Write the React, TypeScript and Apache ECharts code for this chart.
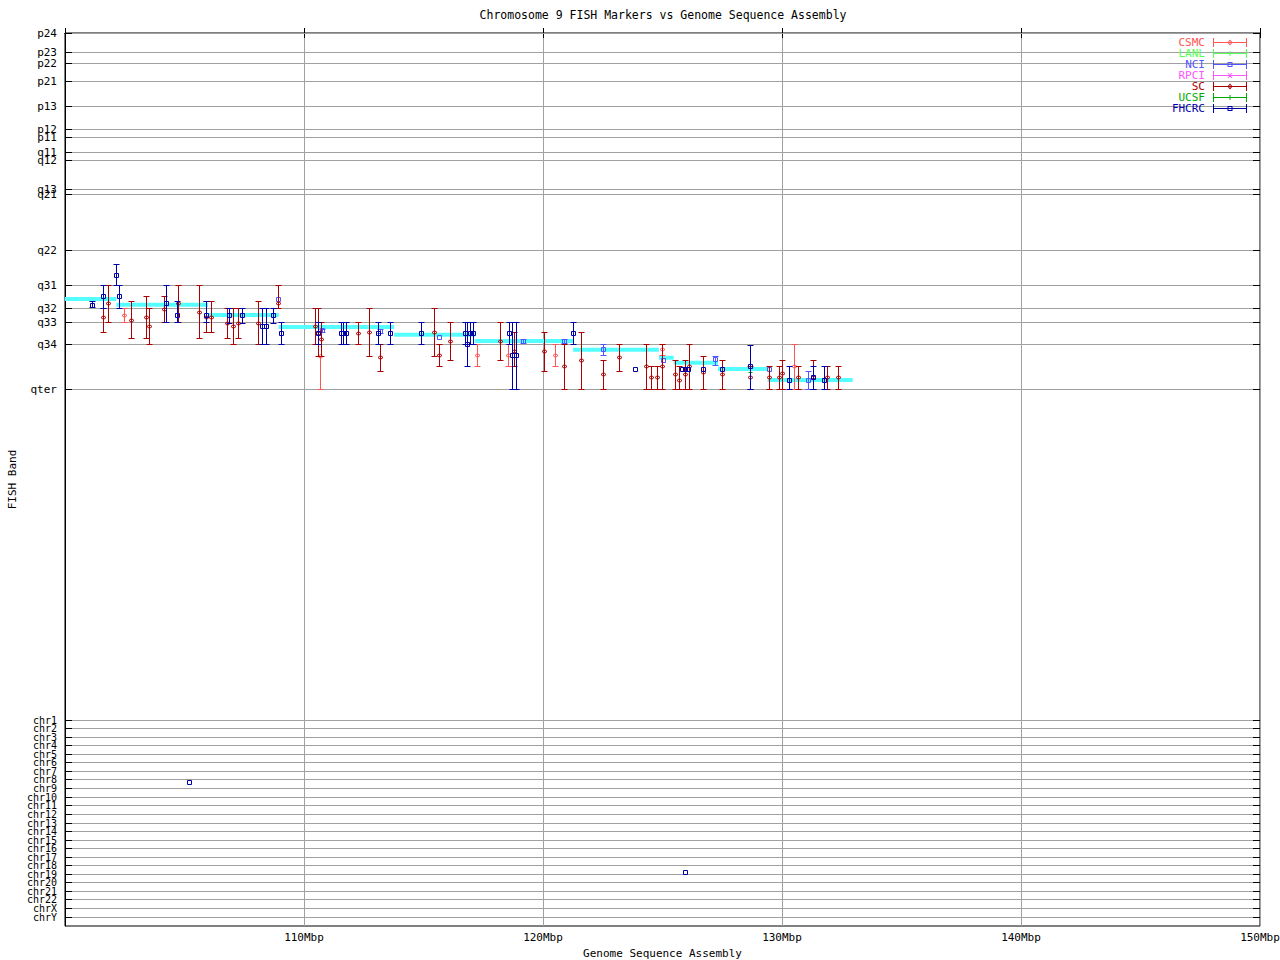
import React, { useEffect, useRef } from 'react';
import * as echarts from 'echarts';

const FONT = '"DejaVu Sans Mono", "Liberation Mono", monospace';

// Axis ranges
const xMin = 100;
const xMax = 150;
const xStep = 10;
const yMax = 250.6; // band-position units (p24 = 0, qter = 100)

// Y tick labels (FISH bands and chromosome rows) and their positions
const bandLabels = [
  'p24', 'p23', 'p22', 'p21', 'p13', 'p12', 'p11', 'q11', 'q12', 'q13', 'q21', 'q22',
  'q31', 'q32', 'q33', 'q34', 'qter',
  'chr1', 'chr2', 'chr3', 'chr4', 'chr5', 'chr6', 'chr7', 'chr8', 'chr9', 'chr10',
  'chr11', 'chr12', 'chr13', 'chr14', 'chr15', 'chr16', 'chr17', 'chr18', 'chr19',
  'chr20', 'chr21', 'chr22', 'chrX', 'chrY',
];
const bandPositions = [
  0, 5.61, 8.42, 13.75, 20.49, 27.22, 29.19, 33.4, 35.92, 43.78, 45.19, 60.9,
  70.73, 77.27, 81.2, 87.37, 100,
  192.8, 195.2, 197.6, 200.0, 202.4, 204.8, 207.2, 209.6, 212.0, 214.4,
  216.8, 219.2, 221.7, 224.1, 226.5, 228.9, 231.3, 233.7, 236.1,
  238.5, 240.9, 243.3, 245.7, 248.1,
];

// Assembly band segments: [startMbp, endMbp, bandPosition]
const assembly = [
  [100.0, 102.15, 74.66],
  [102.15, 105.98, 76.26],
  [105.98, 108.94, 79.15],
  [108.94, 113.77, 82.49],
  [113.77, 117.14, 84.68],
  [117.14, 121.26, 86.44],
  [121.26, 124.85, 88.89],
  [124.85, 125.47, 91.13],
  [125.47, 127.32, 92.53],
  [127.32, 129.44, 94.3],
  [129.4, 132.96, 97.39],
];

// FISH markers: [Mbp, band, bandLow, bandHigh]
const csmc = [
  [102.51, 79.23, 77.27, 81.2],
  [110.69, 90.65, 90.65, 100],
  [117.24, 90.46, 87.37, 93.46],
  [118.54, 90.46, 87.37, 93.46],
  [120.54, 90.37, 87.29, 93.54],
  [125.01, 88.9, 87.29, 90.37],
  [130.53, 93.46, 87.37, 100],
];
const lanl: number[][] = [];
const nci = [
  [108.95, 74.66, 74.66, 74.66],
  [110.77, 83.6, 83.16, 84.0],
  [113.21, 83.7, 83.16, 84.28],
  [115.65, 85.5, 85.5, 85.5],
  [119.18, 86.5, 85.88, 87.09],
  [120.88, 86.5, 85.88, 87.09],
  [122.55, 88.8, 87.37, 90.56],
  [125.03, 91.86, 91.86, 91.86],
  [127.23, 91.58, 90.65, 93.18],
  [129.49, 94.3, 94.3, 94.3],
  [131.09, 97.47, 95.01, 100],
];
const rpci: number[][] = [];
const sc = [
  [101.63, 79.71, 77.27, 84.0],
  [101.84, 75.86, 70.73, 81.2],
  [102.8, 80.63, 75.41, 85.69],
  [103.39, 79.71, 74.01, 85.69],
  [103.54, 82.23, 77.27, 87.29],
  [104.18, 77.55, 73.9, 81.2],
  [104.73, 75.86, 70.73, 81.2],
  [105.61, 78.3, 70.73, 85.69],
  [105.94, 79.71, 75.41, 84.0],
  [106.13, 79.71, 75.41, 84.0],
  [106.78, 81.48, 77.27, 85.69],
  [107.07, 82.32, 77.27, 87.29],
  [107.24, 81.48, 77.27, 85.69],
  [108.08, 81.48, 75.41, 87.29],
  [108.95, 75.86, 70.81, 77.27],
  [110.48, 82.23, 77.27, 87.29],
  [110.59, 84.28, 77.27, 90.65],
  [110.75, 85.97, 81.2, 90.65],
  [112.26, 84.28, 81.2, 87.37],
  [112.76, 84.0, 77.27, 90.65],
  [113.18, 91.02, 87.37, 94.86],
  [115.48, 84.0, 77.27, 90.65],
  [115.65, 90.37, 87.37, 93.46],
  [116.15, 86.53, 81.2, 91.86],
  [118.24, 86.53, 81.2, 91.86],
  [118.8, 89.39, 84.0, 93.46],
  [120.08, 89.39, 84.0, 95.01],
  [120.88, 93.54, 87.29, 100],
  [121.59, 91.86, 84.0, 100],
  [122.55, 95.79, 91.86, 100],
  [123.21, 91.02, 87.29, 95.01],
  [124.35, 93.54, 87.29, 100],
  [124.54, 96.63, 93.54, 100],
  [124.77, 96.63, 93.54, 100],
  [125.01, 93.54, 87.29, 100],
  [125.55, 95.79, 91.86, 100],
  [125.73, 97.47, 93.54, 100],
  [125.98, 95.79, 91.86, 100],
  [126.15, 93.54, 87.37, 100],
  [126.73, 95.14, 90.65, 100],
  [127.49, 95.79, 91.97, 100],
  [128.7, 96.63, 93.66, 100],
  [129.46, 96.63, 93.66, 100],
  [129.9, 96.63, 93.66, 100],
  [130.0, 95.51, 91.97, 100],
  [130.71, 96.63, 93.66, 100],
  [131.3, 96.63, 91.97, 100],
  [131.92, 96.63, 93.66, 100],
  [132.37, 96.63, 93.66, 100],
];
const ucsf = [
  [128.7, 95.14, 95.14, 95.14],
];
const fhcrc = [
  [101.17, 76.34, 75.41, 77.1],
  [101.63, 73.9, 70.73, 77.27],
  [102.15, 67.92, 64.92, 70.73],
  [102.3, 73.9, 70.73, 77.27],
  [104.23, 75.86, 70.73, 81.2],
  [104.69, 79.23, 75.41, 81.2],
  [105.94, 79.23, 75.41, 81.2],
  [106.89, 79.23, 77.27, 81.48],
  [107.41, 79.23, 77.27, 81.48],
  [108.26, 82.32, 77.27, 87.29],
  [108.45, 82.32, 77.27, 87.29],
  [108.74, 79.23, 77.27, 81.48],
  [109.04, 84.28, 81.2, 87.29],
  [110.59, 84.28, 81.2, 87.37],
  [111.56, 84.28, 81.2, 87.37],
  [111.66, 84.28, 81.2, 87.37],
  [111.76, 84.28, 81.2, 87.37],
  [113.1, 84.28, 81.2, 87.37],
  [113.6, 84.28, 81.2, 87.37],
  [114.9, 84.28, 81.2, 87.37],
  [116.74, 84.28, 81.2, 87.37],
  [116.86, 87.37, 81.2, 93.46],
  [116.97, 84.28, 81.2, 87.37],
  [117.1, 84.28, 81.2, 87.37],
  [118.59, 84.28, 81.2, 87.37],
  [118.72, 90.46, 81.2, 100],
  [118.89, 90.46, 81.2, 100],
  [121.26, 84.28, 81.2, 87.29],
  [123.89, 94.3, 94.3, 94.3],
  [125.85, 94.3, 94.3, 94.3],
  [125.98, 94.3, 94.3, 94.3],
  [126.1, 94.3, 94.3, 94.3],
  [126.73, 94.3, 94.3, 94.3],
  [127.49, 94.3, 94.3, 94.3],
  [128.7, 93.66, 87.57, 100],
  [130.32, 97.47, 93.66, 100],
  [131.3, 96.63, 93.66, 100],
  [131.79, 97.47, 93.66, 100],
  [105.23, 210.3, 210.3, 210.3],
  [125.97, 235.48, 235.48, 235.48],
];

const sources = [
  { name: 'CSMC', color: '#ff5555', marker: 'diamond', data: csmc },
  { name: 'LANL', color: '#55ff55', marker: 'tick', data: lanl },
  { name: 'NCI', color: '#5555ff', marker: 'box', data: nci },
  { name: 'RPCI', color: '#ff55ff', marker: 'cross', data: rpci },
  { name: 'SC', color: '#aa0000', marker: 'diamond', data: sc },
  { name: 'UCSF', color: '#00aa00', marker: 'tick', data: ucsf },
  { name: 'FHCRC', color: '#0000aa', marker: 'box', data: fhcrc },
];

const ICON_BASE = 'M0 4H34V5H0Z M0 0H1V9H0Z M33 0H34V9H33Z';
const ICON_MARK: Record<string, string> = {
  box: ' M14.5 2H19.5V7H14.5Z M15.5 3V6H18.5V3Z',
  diamond: ' M17 1.5L19.5 4.5L17 7.5L14.5 4.5Z M17 2.9L15.7 4.5L17 6.1L18.3 4.5Z',
  tick: ' M16.5 2H17.5V7H16.5Z',
  cross: ' M14.5 2L15.5 2L19.5 7L18.5 7Z M18.5 2L19.5 2L15.5 7L14.5 7Z',
};

function crisp(v: number) {
  return Math.round(v - 0.5) + 0.5;
}

function markerRender(marker: string, color: string) {
  return (params: any, api: any) => {
    const x = api.value(0);
    const y = api.value(1);
    const lo = api.value(2);
    const hi = api.value(3);
    const p = api.coord([x, y]);
    const cx = crisp(p[0]);
    const cy = crisp(p[1]);
    const ly = crisp(api.coord([x, lo])[1]);
    const hy = crisp(api.coord([x, hi])[1]);
    const st = { stroke: color, lineWidth: 1, fill: 'none' };
    const children: any[] = [];
    if (Math.abs(hy - ly) >= 1) {
      children.push({ type: 'line', shape: { x1: cx, y1: ly, x2: cx, y2: hy }, style: st });
      children.push({ type: 'line', shape: { x1: cx - 3, y1: ly, x2: cx + 3, y2: ly }, style: st });
      children.push({ type: 'line', shape: { x1: cx - 3, y1: hy, x2: cx + 3, y2: hy }, style: st });
    }
    if (marker === 'box') {
      children.push({ type: 'rect', shape: { x: cx - 2, y: cy - 2, width: 4, height: 4 }, style: st });
    } else if (marker === 'diamond') {
      children.push({
        type: 'polygon',
        shape: { points: [[cx - 2.5, cy], [cx, cy - 2], [cx + 2.5, cy], [cx, cy + 2]] },
        style: st,
      });
    } else if (marker === 'tick') {
      children.push({ type: 'line', shape: { x1: cx, y1: cy - 2, x2: cx, y2: cy + 2 }, style: st });
      children.push({ type: 'line', shape: { x1: cx - 2, y1: cy, x2: cx + 2, y2: cy }, style: st });
    } else if (marker === 'cross') {
      children.push({ type: 'line', shape: { x1: cx - 2, y1: cy - 2, x2: cx + 2, y2: cy + 2 }, style: st });
      children.push({ type: 'line', shape: { x1: cx - 2, y1: cy + 2, x2: cx + 2, y2: cy - 2 }, style: st });
    }
    return { type: 'group', children };
  };
}

export default function App() {
  const ref = useRef<HTMLDivElement>(null);

  useEffect(() => {
    if (!ref.current) return;
    const chart = echarts.init(ref.current, null, { renderer: 'svg' });

    const bandSeries = {
      type: 'custom',
      name: 'bands',
      silent: true,
      z: 1,
      clip: false,
      data: bandPositions.map((v, i) => ({ value: [xMin, v], name: bandLabels[i] })),
      encode: { x: 0, y: 1 },
      renderItem: (params: any, api: any) => {
        const cs = params.coordSys;
        const y = crisp(api.coord([xMin, api.value(1)])[1]);
        const x0 = cs.x;
        const x1 = cs.x + cs.width;
        const label = bandLabels[params.dataIndex];
        const isChr = label.startsWith('chr');
        return {
          type: 'group',
          children: [
            { type: 'line', shape: { x1: x0, y1: y, x2: x1, y2: y }, style: { stroke: '#a0a0a0', lineWidth: 1 } },
            { type: 'line', shape: { x1: x0, y1: y, x2: x0 + 7, y2: y }, style: { stroke: '#000', lineWidth: 1 } },
            { type: 'line', shape: { x1: x1 - 7, y1: y, x2: x1, y2: y }, style: { stroke: '#000', lineWidth: 1 } },
            {
              type: 'text',
              style: {
                x: x0 - 8,
                y: y,
                text: label,
                align: 'right',
                verticalAlign: 'middle',
                fontFamily: FONT,
                fontSize: isChr ? 10 : 11,
                lineHeight: 8,
                fill: '#000',
              },
            },
          ],
        };
      },
    };

    const assemblySeries = {
      type: 'custom',
      name: 'assembly',
      silent: true,
      z: 2,
      data: assembly,
      encode: { x: [0, 1], y: 2 },
      renderItem: (params: any, api: any) => {
        const a = api.coord([api.value(0), api.value(2)]);
        const b = api.coord([api.value(1), api.value(2)]);
        return {
          type: 'line',
          shape: { x1: a[0], y1: a[1], x2: b[0], y2: b[1] },
          style: { stroke: '#55ffff', lineWidth: 4 },
        };
      },
    };

    const markerSeries = sources.map((s, i) => ({
      type: 'custom',
      name: s.name,
      z: 3 + i,
      itemStyle: { color: s.color },
      data: s.data,
      encode: { x: 0, y: 1 },
      renderItem: markerRender(s.marker, s.color),
    }));

    const axisFont = { fontFamily: FONT, fontSize: 11, color: '#000' };

    chart.setOption({
      animation: false,
      backgroundColor: '#fff',
      title: {
        text: 'Chromosome 9 FISH Markers vs Genome Sequence Assembly',
        left: 663,
        top: 9,
        textAlign: 'center',
        padding: 0,
        textStyle: { fontFamily: FONT, fontSize: 11.5, fontWeight: 'normal', color: '#000' },
      },
      legend: {
        orient: 'vertical',
        right: 33,
        top: 37,
        align: 'right',
        padding: 0,
        itemWidth: 34,
        itemHeight: 9,
        itemGap: 0,
        selectedMode: false,
        textStyle: { fontFamily: FONT, fontSize: 11, lineHeight: 11, padding: [0, 3, 0, 0] },
        data: sources.map((s) => ({
          name: s.name,
          icon: 'path://' + ICON_BASE + ICON_MARK[s.marker],
          textStyle: { color: s.color },
        })),
      },
      grid: {
        left: 65,
        right: 20,
        top: 33,
        bottom: 34,
        show: true,
        borderColor: '#000',
        borderWidth: 1,
        backgroundColor: 'transparent',
        containLabel: false,
        outerBoundsMode: 'none',
      },
      xAxis: [
        {
          type: 'value',
          min: xMin,
          max: xMax,
          interval: xStep,
          position: 'bottom',
          axisLine: { show: true, lineStyle: { color: '#000', width: 1 } },
          axisTick: { show: true, inside: true, length: 5, lineStyle: { color: '#000' } },
          axisLabel: {
            ...axisFont,
            margin: 6,
            formatter: (v: number) => (v === xMin ? '' : `${v}Mbp`),
          },
          splitLine: { show: true, lineStyle: { color: '#a0a0a0', width: 1, type: 'solid' } },
          name: 'Genome Sequence Assembly',
          nameLocation: 'middle',
          nameGap: 22,
          nameTextStyle: axisFont,
        },
        {
          type: 'value',
          min: xMin,
          max: xMax,
          interval: xStep,
          position: 'top',
          axisLine: { show: true, lineStyle: { color: '#000', width: 1 } },
          axisTick: { show: true, inside: true, length: 5, lineStyle: { color: '#000' } },
          axisLabel: { show: false },
          splitLine: { show: false },
        },
      ],
      yAxis: {
        type: 'value',
        min: 0,
        max: yMax,
        inverse: true,
        axisLine: { show: true, lineStyle: { color: '#000', width: 1 } },
        axisTick: { show: false },
        splitLine: { show: false },
        axisLabel: { show: false },
        name: 'FISH Band',
        nameLocation: 'middle',
        nameGap: 47,
        nameRotate: 90,
        nameTextStyle: axisFont,
      },
      series: [bandSeries, assemblySeries, ...markerSeries],
    });

    return () => chart.dispose();
  }, []);

  return (
    <div
      ref={ref}
      style={{ position: 'absolute', left: 0, top: 0, width: 1280, height: 960, background: '#fff' }}
    />
  );
}
